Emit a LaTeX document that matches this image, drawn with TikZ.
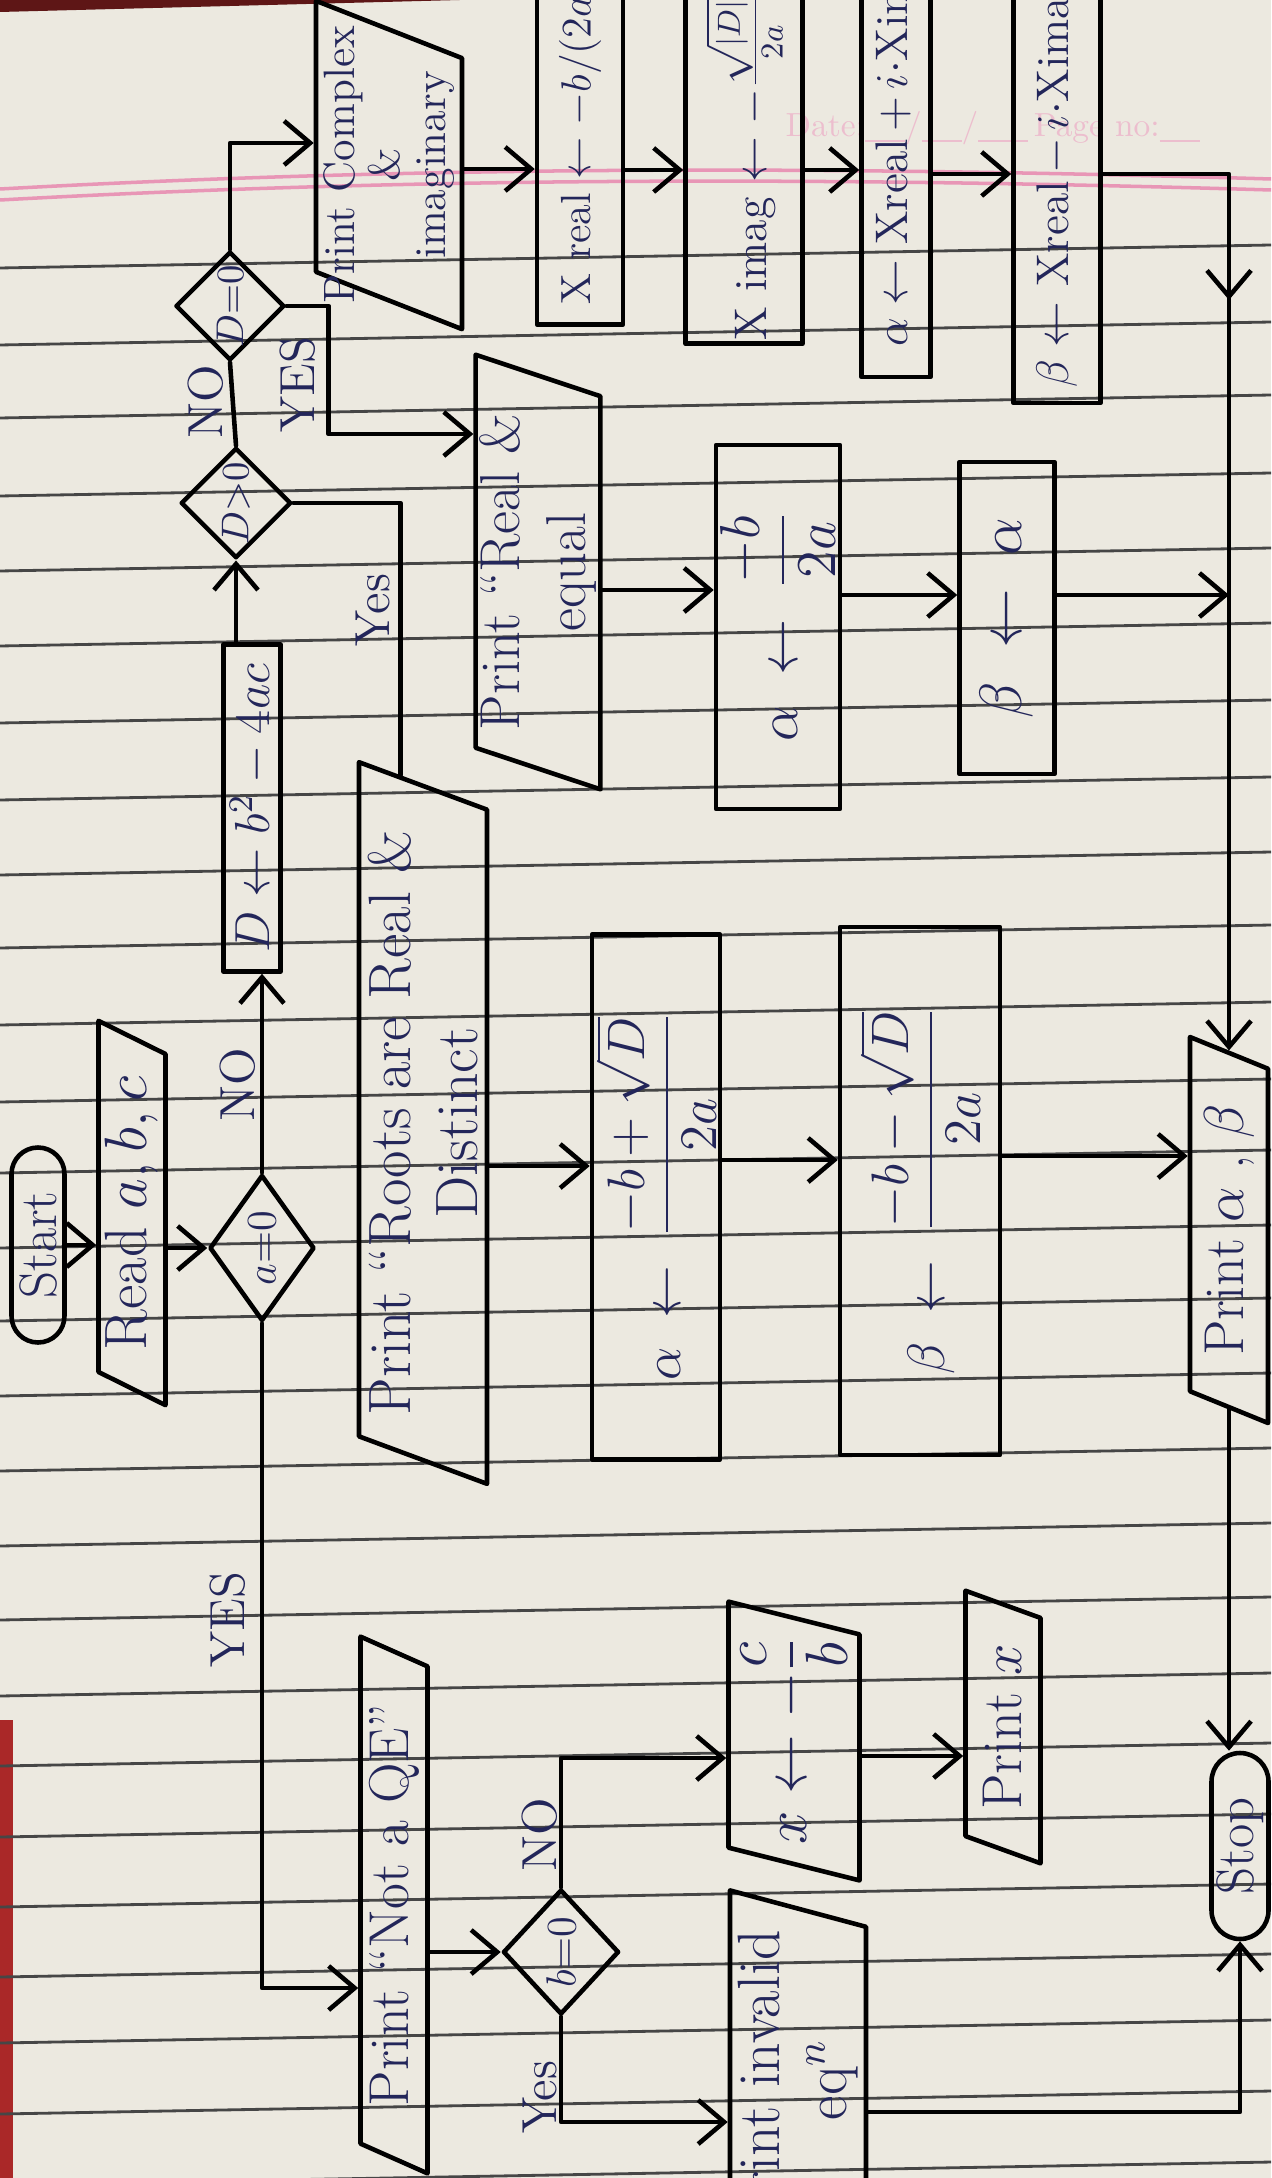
\RequirePackage{fix-cm}
\documentclass[tikz,border=0pt]{standalone}
\usepackage{amsmath}
\usetikzlibrary{shapes.geometric,shapes.misc,arrows.meta,calc}

\definecolor{paper}{RGB}{236,233,224}
\definecolor{ink}{RGB}{35,38,90}
\definecolor{ruling}{RGB}{70,70,70}
\definecolor{margin}{RGB}{232,150,182}
\definecolor{header}{RGB}{236,190,206}
\definecolor{cloth}{RGB}{170,40,40}

\tikzset{
  pen/.style={draw=black, line width=1.3pt},
  arr/.style={pen, -{Straight Barb[length=2.6mm,width=4.4mm]}},
  txt/.style={text=ink, rotate=90, inner sep=1pt},
  proc/.style={pen, txt, rectangle},
  io/.style={pen, txt, trapezium, trapezium stretches=true},
  term/.style={pen, txt, rounded rectangle, inner sep=0pt, font=\fontsize{15}{17}\selectfont},
  decide/.style={pen, txt, diamond, aspect=1, inner sep=0pt, font=\fontsize{11}{13}\selectfont},
  lbl/.style={txt, font=\fontsize{14}{16}\selectfont},
  big/.style={font=\fontsize{17}{19}\selectfont}
}

\begin{document}
\begin{tikzpicture}[x=0.1mm, y=-0.1mm, line cap=round, line join=round]
  \useasboundingbox (0,0) rectangle (1271,2178);
  \clip (0,0) rectangle (1271,2178);

  % the notebook page
  \fill[paper] (0,0) rectangle (1271,2178);
  \fill[cloth] (0,1720) rectangle (13,2178);
  \fill[cloth!55!black] (0,0) -- (460,0) -- (0,12) -- cycle;
  \foreach \ly in {268,345,418,496,571,646,723,800,875,948,1025,1102,1173,1248,
                   1321,1396,1471,1546,1620,1696,1766,1837,1907,1977,2043,2114,2185}
    \draw[ruling, line width=0.8pt] (0,\ly) -- (1271,{\ly-23});
  \draw[margin, line width=1pt] (0,200) .. controls (400,178) and (800,176) .. (1271,190);
  \draw[margin, line width=1pt] (0,189) .. controls (400,167) and (800,165) .. (1271,179);
  \node[header, anchor=west, inner sep=0pt, font=\fontsize{9.5}{11}\selectfont] (date) at (785,128)
    {Date:\underline{\hspace{4mm}}/\underline{\hspace{4mm}}/\underline{\hspace{5mm}}\,Page no:\underline{\hspace{4mm}}};

  % terminals
  \node[term, minimum width=19.5mm, minimum height=5.3mm] (start) at (38,1245) {Start};
  \node[term, minimum width=18.6mm, minimum height=5.7mm] (stop) at (1240,1846) {Stop};

  % decisions
  \node[decide, font=\fontsize{12}{14}\selectfont, aspect=1.4,
        minimum width=14.6mm, minimum height=10.5mm] (a0) at (262,1248) {$a{=}0$};
  \node[decide, minimum width=10.9mm, minimum height=10.1mm] (dpos) at (236,503) {$D{>}0$};
  \node[decide, minimum width=10.8mm, minimum height=10.6mm] (dzero) at (230,306) {$D{=}0$};
  \node[decide, font=\fontsize{12}{14}\selectfont, aspect=1.2,
        minimum width=12.5mm, minimum height=11.6mm] (b0) at (561,1952) {$b{=}0$};

  % input and output
  \node[io, big, trapezium left angle=64, trapezium right angle=116,
        minimum width=38.6mm, minimum height=6.7mm] (read) at (132,1213) {Read $a,b,c$};
  \node[io, big, trapezium left angle=69, trapezium right angle=111, align=center,
        minimum width=72.2mm, minimum height=12.8mm] (roots) at (423,1123)
        {Print “Roots are Real \&\\ Distinct};
  \node[io, font=\fontsize{16}{19}\selectfont, trapezium left angle=73, trapezium right angle=107,
        align=center, minimum width=43.5mm, minimum height=12.3mm] (realeq) at (538,572)
        {Print “Real \&\\ equal};
  \node[io, font=\fontsize{12.5}{13}\selectfont, trapezium left angle=71, trapezium right angle=109,
        align=center, inner xsep=-5mm, minimum width=33mm, minimum height=14.6mm] (complex) at (389,165)
        {Print Complex\\ \&\\ imaginary};
  \node[io, font=\fontsize{16}{18}\selectfont, trapezium left angle=66, trapezium right angle=114,
        minimum width=53.7mm, minimum height=6.7mm] (notqe) at (394,1905) {Print “Not a QE”};
  \node[io, big, trapezium left angle=74, trapezium right angle=106,
        minimum width=26mm, minimum height=13.1mm] (xcb) at (794,1741) {$x \leftarrow -\dfrac{c}{b}$};
  \node[io, font=\fontsize{16}{18}\selectfont, trapezium left angle=65, trapezium right angle=115,
        minimum width=27.4mm, minimum height=7.5mm] (printx) at (1003,1727) {Print $x$};
  \node[io, big, trapezium left angle=74, trapezium right angle=106, align=center,
        minimum width=37.6mm, minimum height=13.6mm] (inv) at (798,2080) {Print invalid\\ eq$^{n}$};
  \node[io, font=\fontsize{16}{18}\selectfont, trapezium left angle=66, trapezium right angle=114,
        minimum width=38.9mm, minimum height=7.8mm] (printab) at (1229,1230) {Print $\alpha$ , $\beta$};

  % processes
  \node[proc, font=\fontsize{14}{16}\selectfont, minimum width=32.7mm, minimum height=5.7mm]
        (dbox) at (252,808) {$D \leftarrow b^2-4ac$};
  \node[proc, font=\fontsize{12}{14}\selectfont, minimum width=36.5mm, minimum height=8.6mm]
        (xreal) at (580,142) {X real $\leftarrow -b/(2a)$};
  \node[proc, font=\fontsize{13}{15}\selectfont, minimum width=34.2mm, minimum height=11.7mm]
        (ximag) at (744,168) {X imag $\leftarrow -\frac{\sqrt{|D|}}{2a}$};
  \node[proc, font=\fontsize{13}{15}\selectfont, minimum width=47.4mm, minimum height=6.9mm]
        (ax) at (896,140) {$\alpha \leftarrow$ Xreal$\,+\,i\cdot$Ximag};
  \node[proc, font=\fontsize{13}{15}\selectfont, minimum width=44.4mm, minimum height=8.7mm]
        (bx) at (1057,181) {$\beta \leftarrow$ Xreal$\,-\,i\cdot$Ximag};
  \node[proc, font=\fontsize{16}{18}\selectfont, minimum width=36.4mm, minimum height=12.4mm]
        (aeq) at (778,627) {$\alpha \;\leftarrow\; \dfrac{-b}{2a}$};
  \node[proc, big, minimum width=31.2mm, minimum height=9.5mm]
        (beq) at (1007,618) {$\beta \;\leftarrow\; \alpha$};
  \node[proc, font=\fontsize{15}{17}\selectfont, minimum width=52.5mm, minimum height=12.8mm]
        (aplus) at (656,1197) {$\alpha \;\leftarrow\; \dfrac{-b+\sqrt{D}}{2a}$};
  \node[proc, font=\fontsize{15}{17}\selectfont, minimum width=52.8mm, minimum height=16mm]
        (bminus) at (920,1191) {$\beta \;\leftarrow\; \dfrac{-b-\sqrt{D}}{2a}$};

  % branch labels
  \node[lbl] (noA) at (238,1085) {NO};
  \node[lbl] (yesA) at (228,1620) {YES};
  \node[lbl] (noB) at (206,402) {NO};
  \node[lbl] (yesB) at (298,385) {YES};
  \node[lbl] (yesC) at (373,610) {Yes};
  \node[lbl] (noC) at (540,1835) {NO};
  \node[lbl] (yesD) at (540,2097) {Yes};

  % main line
  \draw[arr] (start.south) -- (start.south -| read.north);
  \draw[arr] (read.south |- a0.north) -- (a0.north);
  \draw[arr] (a0.east) -- (a0.east |- dbox.west);
  \draw[arr] (dpos.west |- dbox.east) -- (dpos.west);
  \draw[pen] (dpos.east) -- (dzero.west);
  \draw[arr] (dzero.east) |- ([yshift=2.2mm]complex.north);
  \draw[arr] (dzero.south) -- ++(42,0) |- (realeq.north |- 0,434);
  \draw[pen] (dpos.south) -| ($(roots.top right corner)!0.33!(roots.bottom right corner)$);

  % complex roots
  \draw[arr] (complex.south |- 0,169) -- (xreal.north |- 0,169);
  \draw[arr] (xreal.south |- 0,170) -- (ximag.north |- 0,170);
  \draw[arr] (ximag.south |- 0,170) -- (ax.north |- 0,170);
  \draw[arr] (ax.south |- 0,174) -- (bx.north |- 0,174);
  \draw[arr] (bx.south |- 0,174) -| (printab.east |- 0,300);
  \draw[arr] (printab.east |- 0,290) -- (printab.east);

  % equal roots
  \draw[arr] (realeq.south |- 0,590) -- (aeq.north |- 0,590);
  \draw[arr] (aeq.south |- 0,595) -- (beq.north |- 0,595);
  \draw[arr] (beq.south |- 0,595) -- (printab.east |- 0,595);

  % distinct roots
  \draw[arr] (roots.south |- 0,1166) -- (aplus.north |- 0,1166);
  \draw[arr] (aplus.south |- 0,1160) -- (bminus.north |- 0,1160);
  \draw[arr] (bminus.south |- 0,1156) -- (printab.north |- 0,1156);
  \draw[arr] (printab.west) -- (printab.west |- stop.east);

  % not a quadratic
  \draw[arr] (a0.west) |- (notqe.north |- 0,1988);
  \draw[arr] (notqe.south |- b0.north) -- (b0.north);
  \draw[arr] (b0.east) |- (xcb.north |- 0,1758);
  \draw[arr] (xcb.south |- 0,1756) -- (printx.north |- 0,1756);
  \draw[arr] (b0.west) |- (inv.north |- 0,2122);
  \draw[arr] (inv.south |- 0,2112) -| (stop.west);
\end{tikzpicture}
\end{document}
